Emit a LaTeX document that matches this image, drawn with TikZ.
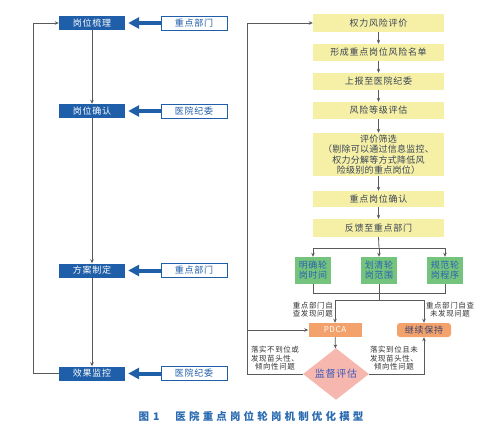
\documentclass[tikz,border=0pt]{standalone}
\usepackage{fontspec}
\usetikzlibrary{arrows.meta,shapes.geometric}
\newfontfamily\cjk[LetterSpace=8]{Noto Sans CJK SC}
\newfontfamily\cjknar[LetterSpace=3]{Noto Sans CJK SC}
\newfontfamily\cjklab[LetterSpace=8]{Noto Sans CJK SC}
\newfontfamily\cjkcap[LetterSpace=30]{Noto Sans CJK SC}
\definecolor{dblue}{HTML}{1F5EA8}
\definecolor{yel}{HTML}{F6F0A6}
\definecolor{ytext}{HTML}{3A4456}
\definecolor{grn}{HTML}{74C47E}
\definecolor{gtext}{HTML}{2D62B0}
\definecolor{lgray}{HTML}{5A5A5A}
\definecolor{orng}{HTML}{F4A26B}
\definecolor{pink}{HTML}{F6B8AE}
\definecolor{dtext}{HTML}{3C58BE}
\definecolor{ktext}{HTML}{3A4470}
\definecolor{captc}{HTML}{2A6AB0}
\begin{document}
\begin{tikzpicture}[x=1pt,y=-1pt,
  lbox/.style={fill=dblue,text=white,minimum width=66pt,minimum height=14pt,inner sep=0pt,font=\cjk\fontsize{9}{10}\selectfont},
  obox/.style={draw=dblue,line width=0.8pt,fill=white,text=dblue,minimum width=66pt,minimum height=14pt,inner sep=0pt,font=\cjk\fontsize{9}{10}\selectfont},
  ybox/.style={fill=yel,text=ytext,minimum width=131pt,minimum height=17pt,inner sep=0pt,align=center,font=\cjk\fontsize{9}{10.5}\selectfont},
  gbox/.style={fill=grn,text=gtext,minimum width=36pt,minimum height=27pt,inner sep=0pt,align=center,font=\cjk\fontsize{9}{10}\selectfont},
  lab/.style={text=black!80,inner sep=0pt,align=center,font=\cjklab\fontsize{7.5}{8.5}\selectfont},
  conn/.style={draw=lgray,line width=0.8pt},
  arr/.style={conn,-{Stealth[length=4pt,width=3.5pt]}},
  tarr/.style={draw=dblue,line width=4pt,-{Triangle[length=11pt,width=11pt]},shorten >=3pt}
]
\useasboundingbox (0,0) rectangle (500,438);

% left column
\node[lbox] (m1) at (92,23) {岗位梳理};
\node[lbox] (m2) at (92,111) {岗位确认};
\node[lbox] (m3) at (92,270.5) {方案制定};
\node[lbox] (m4) at (92,373.5) {效果监控};
\node[obox] (o1) at (194,23) {重点部门};
\node[obox] (o2) at (194,111) {医院纪委};
\node[obox] (o3) at (194,270.5) {重点部门};
\node[obox] (o4) at (194,373.5) {医院纪委};
\foreach \i in {1,2,3,4} \draw[tarr] (o\i.west) -- (m\i.east);
\draw[arr] (m1) -- (m2);
\draw[arr] (m2) -- (m3);
\draw[arr] (m3) -- (m4);
\draw[arr] (m4.west) -- ++(-25,0) |- (m1.west);

% right column
\node[ybox,minimum height=18pt] (y1) at (378.5,23) {权力风险评价};
\node[ybox] (y2) at (378.5,52.5) {形成重点岗位风险名单};
\node[ybox] (y3) at (378.5,81.5) {上报至医院纪委};
\node[ybox] (y4) at (378.5,110.5) {风险等级评估};
\node[ybox,minimum height=43pt,font=\cjknar\fontsize{9}{10.5}\selectfont] (y5) at (378.5,154.5) {评价筛选\\（剔除可以通过信息监控、\\权力分解等方式降低风\\险级别的重点岗位）};
\node[ybox,minimum height=16pt] (y6) at (378.5,199) {重点岗位确认};
\node[ybox,minimum height=18pt] (y7) at (378.5,228) {反馈至重点部门};
\draw[arr] (y1) -- (y2);
\draw[arr] (y2) -- (y3);
\draw[arr] (y3) -- (y4);
\draw[arr] (y4) -- (y5);
\draw[arr] (y5) -- (y6);
\draw[arr] (y6) -- (y7);

\node[gbox] (g1) at (313,270.5) {明确轮\\岗时间};
\node[gbox] (g2) at (379,270.5) {划清轮\\岗范围};
\node[gbox] (g3) at (445,270.5) {规范轮\\岗程序};
\coordinate (sp) at (379,248);
\draw[conn] (y7.south) -- (sp);
\draw[conn] (g1.north |- sp) -- (g3.north |- sp);
\draw[arr] (sp) -- (g2.north);
\draw[arr] (g1.north |- sp) -- (g1.north);
\draw[arr] (g3.north |- sp) -- (g3.north);
\coordinate (jn) at (379,293);
\draw[conn] (g1.south) -- (g1.south |- jn) -- (g3.south |- jn) -- (g3.south);
\draw[conn] (g2.south) -- (jn);

\node[fill=orng,text=white,minimum width=53pt,minimum height=14pt,inner sep=0pt,font=\cjk\fontsize{8}{9}\selectfont] (p) at (335,330) {PDCA};
\node[fill=orng,text=ktext,rounded corners=3pt,minimum width=54pt,minimum height=14pt,inner sep=0pt,font=\cjk\fontsize{9}{10}\selectfont] (k) at (424,330) {继续保持};
\node[diamond,fill=pink,text=dtext,minimum width=66pt,minimum height=25pt,inner sep=0pt,font=\cjk\fontsize{10}{11}\selectfont] (d) at (336,374) {监督评估};

\coordinate (sp2) at (379,300);
\draw[conn] (jn) -- (sp2);
\draw[arr] (sp2) -| (p.north);
\draw[arr] (sp2) -| (k.north);
\draw[arr] (p) -- (d);
\draw[arr] (d.east) -| (k.south);
\coordinate (rl) at (247,374);
\draw[arr] (d.west) -- (rl) |- (y1.west);
\draw[arr] (rl |- p.west) -- (p.west);

% labels
\node[lab,anchor=north east] (l1) at (333,301.5) {重点部门自\\查发现问题};
\node[lab,anchor=north] (l2) at (450,301.5) {重点部门自查\\未发现问题};
\node[lab] (l3) at (275,358.5) {落实不到位或\\发现苗头性、\\倾向性问题};
\node[lab] (l4) at (394,358.5) {落实到位且未\\发现苗头性、\\倾向性问题};

% caption
\node[text=captc,inner sep=0pt,font=\cjkcap\bfseries\fontsize{10.5}{12}\selectfont] (cap) at (251,416) {图\hspace{4pt}1\hspace{16pt}医院重点岗位轮岗机制优化模型};
\end{tikzpicture}
\end{document}
